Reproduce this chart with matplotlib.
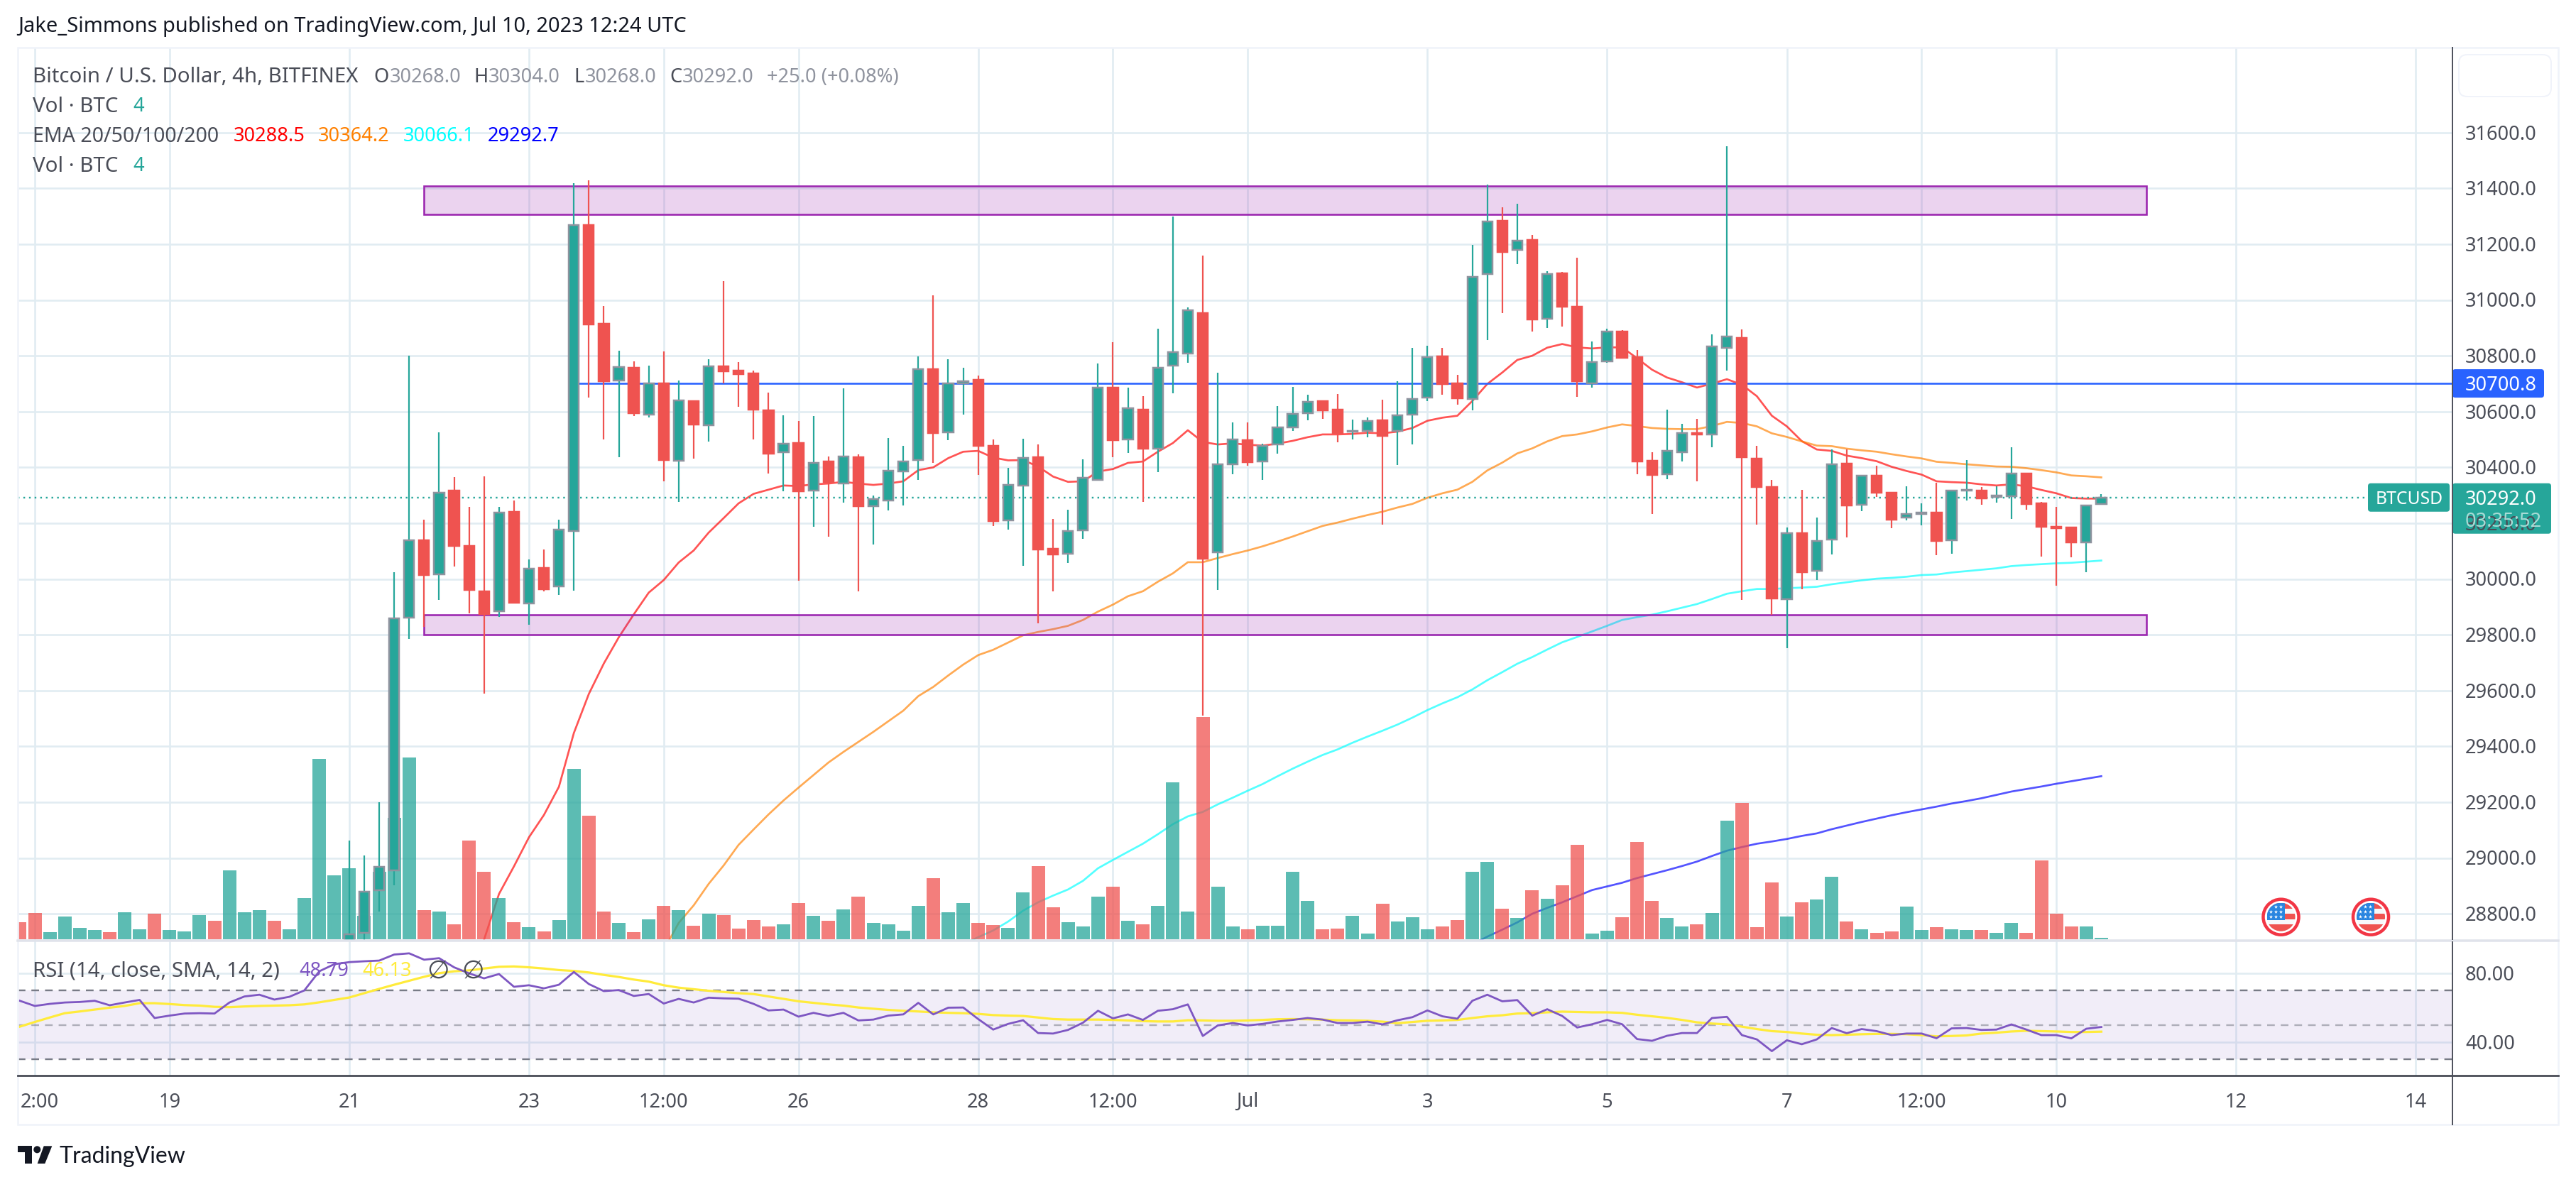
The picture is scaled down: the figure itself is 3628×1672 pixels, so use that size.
import numpy as np
import matplotlib
matplotlib.use('Agg')
import matplotlib.pyplot as plt
from matplotlib.patches import Rectangle, Circle, Polygon, FancyBboxPatch

# volume per bar (arbitrary units), bars -1 .. 138
volume = [56, 87, 24, 75, 38, 31, 24, 89, 33, 84, 31, 26, 80, 61, 227, 89, 96, 61, 33, 136,
          593, 210, 234, 77, 222, 399, 598, 96, 91, 49, 325, 222, 136, 56, 40, 26, 63, 560, 406, 91,
          54, 24, 66, 110, 96, 45, 84, 80, 35, 63, 42, 49, 119, 77, 61, 98, 140, 54, 49, 28,
          110, 201, 89, 119, 54, 47, 38, 154, 241, 105, 56, 42, 140, 173, 61, 49, 110, 516, 91, 731,
          173, 42, 33, 45, 45, 222, 126, 33, 35, 77, 19, 117, 59, 73, 33, 42, 63, 222, 255, 101,
          70, 161, 133, 178, 311, 19, 28, 73, 320, 126, 70, 42, 49, 87, 390, 448, 40, 187, 75, 122,
          131, 206, 59, 33, 21, 26, 108, 31, 40, 33, 31, 31, 21, 54, 21, 259, 84, 42, 42, 5]
# direction of the bars whose candles sit below the visible price range (-1 .. 20)
early_up = [0, 0, 1, 1, 1, 1, 0, 1, 1, 0, 1, 1, 1, 0, 1, 1, 1, 0, 1, 1, 1, 1]

# candles, bars 21 .. 138
opens = [28650, 28731, 28885, 28956, 29862, 30138, 30017, 30317, 30118, 29955,
         29884, 30241, 29912, 30040, 29973, 30172, 31268, 30915, 30711, 30757,
         30589, 30701, 30423, 30638, 30550, 30762, 30747, 30737, 30605, 30454,
         30487, 30316, 30421, 30342, 30437, 30261, 30281, 30385, 30426, 30752,
         30525, 30700, 30713, 30477, 30210, 30334, 30437, 30108, 30090, 30175,
         30355, 30686, 30499, 30607, 30468, 30765, 30807, 30953, 30095, 30411,
         30498, 30420, 30481, 30544, 30594, 30638, 30607, 30529, 30531, 30569,
         30530, 30589, 30651, 30798, 30701, 30644, 31092, 31283, 31179, 31216,
         30933, 31095, 30975, 30702, 30781, 30887, 30794, 30424, 30376, 30455,
         30522, 30518, 30829, 30864, 30432, 30329, 29928, 30164, 30029, 30141,
         30413, 30265, 30371, 30310, 30219, 30234, 30238, 30138, 30316, 30317,
         30295, 30297, 30378, 30271, 30186, 30185, 30132, 30268]
highs = [29062, 29010, 29199, 30024, 30801, 30213, 30526, 30366, 30259, 30368,
         30259, 30282, 30070, 30106, 30213, 31419, 31429, 30979, 30818, 30780,
         30765, 30816, 30712, 30640, 30788, 31068, 30778, 30747, 30668, 30587,
         30567, 30583, 30439, 30683, 30447, 30300, 30506, 30477, 30798, 31017,
         30787, 30757, 30729, 30499, 30398, 30503, 30482, 30215, 30249, 30429,
         30772, 30848, 30686, 30655, 30898, 31299, 30973, 31158, 30739, 30561,
         30561, 30485, 30620, 30689, 30660, 30638, 30663, 30572, 30580, 30643,
         30709, 30829, 30835, 30829, 30731, 31197, 31413, 31331, 31344, 31232,
         31103, 31100, 31152, 30851, 30898, 30892, 30821, 30454, 30607, 30556,
         30574, 30877, 31550, 30895, 30477, 30355, 30185, 30320, 30220, 30465,
         30465, 30369, 30406, 30310, 30332, 30271, 30346, 30320, 30426, 30329,
         30333, 30472, 30378, 30276, 30259, 30185, 30264, 30304]
lows = [28600, 28700, 28809, 28902, 29785, 29827, 29925, 30045, 29876, 29588,
        29865, 29913, 29835, 29955, 29943, 29959, 30650, 30500, 30437, 30584,
        30579, 30351, 30277, 30432, 30493, 30701, 30618, 30500, 30377, 30315,
        29993, 30186, 30151, 30274, 29956, 30123, 30246, 30264, 30356, 30417,
        30498, 30589, 30372, 30189, 30178, 30046, 29841, 29956, 30056, 30145,
        30355, 30437, 30452, 30277, 30384, 30666, 30774, 29510, 29960, 30376,
        30407, 30355, 30450, 30530, 30569, 30574, 30490, 30500, 30508, 30194,
        30408, 30482, 30637, 30660, 30625, 30604, 30855, 30953, 31129, 30887,
        30899, 30904, 30652, 30686, 30775, 30792, 30376, 30232, 30358, 30421,
        30350, 30473, 30747, 29925, 30195, 29872, 29751, 29963, 29997, 30088,
        30149, 30243, 30294, 30182, 30210, 30193, 30086, 30090, 30281, 30265,
        30273, 30215, 30249, 30080, 29975, 30077, 30025, 30268]
closes = [28726, 28878, 28967, 29858, 30138, 30013, 30309, 30119, 29960, 29873,
          30237, 29915, 30036, 29964, 30178, 31268, 30913, 30709, 30759, 30593,
          30700, 30425, 30639, 30554, 30761, 30745, 30735, 30606, 30448, 30486,
          30313, 30417, 30348, 30438, 30260, 30285, 30387, 30420, 30751, 30524,
          30700, 30708, 30478, 30207, 30338, 30435, 30106, 30089, 30173, 30363,
          30685, 30498, 30613, 30467, 30756, 30814, 30964, 30073, 30412, 30499,
          30419, 30476, 30544, 30592, 30634, 30605, 30524, 30531, 30565, 30513,
          30587, 30646, 30796, 30699, 30647, 31082, 31282, 31173, 31212, 30931,
          31094, 30975, 30708, 30778, 30886, 30792, 30421, 30373, 30460, 30524,
          30517, 30833, 30868, 30437, 30330, 29929, 30165, 30024, 30137, 30412,
          30263, 30369, 30310, 30212, 30232, 30237, 30136, 30316, 30320, 30290,
          30298, 30377, 30269, 30186, 30182, 30130, 30264, 30292]

# EMA 20, bars 30 .. 138
ema20 = [28707, 28871, 28970, 29074, 29154, 29255, 29448, 29588, 29697, 29791,
         29873, 29951, 29996, 30059, 30102, 30166, 30218, 30271, 30305, 30320,
         30335, 30333, 30339, 30342, 30348, 30342, 30337, 30342, 30350, 30390,
         30400, 30433, 30456, 30459, 30435, 30425, 30426, 30403, 30367, 30348,
         30350, 30385, 30394, 30416, 30421, 30456, 30487, 30533, 30491, 30482,
         30486, 30481, 30478, 30485, 30495, 30508, 30518, 30518, 30520, 30524,
         30522, 30528, 30541, 30567, 30578, 30585, 30638, 30699, 30740, 30785,
         30800, 30829, 30842, 30830, 30826, 30830, 30830, 30791, 30750, 30722,
         30705, 30686, 30700, 30716, 30696, 30655, 30585, 30547, 30494, 30464,
         30459, 30442, 30433, 30422, 30402, 30387, 30374, 30350, 30347, 30345,
         30339, 30335, 30339, 30332, 30319, 30307, 30290, 30288, 30288]
# EMA 50, bars 42 .. 138
ema50 = [28670, 28767, 28830, 28907, 28973, 29047, 29102, 29156, 29206, 29252,
         29297, 29342, 29380, 29416, 29452, 29490, 29528, 29580, 29613, 29654,
         29693, 29727, 29746, 29772, 29798, 29810, 29820, 29832, 29853, 29883,
         29908, 29938, 29956, 29990, 30020, 30060, 30060, 30075, 30089, 30102,
         30117, 30134, 30152, 30171, 30190, 30202, 30216, 30229, 30241, 30256,
         30269, 30291, 30307, 30320, 30348, 30389, 30417, 30450, 30468, 30493,
         30512, 30518, 30529, 30543, 30554, 30548, 30541, 30538, 30537, 30537,
         30548, 30563, 30559, 30547, 30522, 30509, 30493, 30478, 30476, 30467,
         30461, 30456, 30447, 30439, 30432, 30420, 30416, 30411, 30407, 30403,
         30402, 30397, 30390, 30382, 30371, 30368, 30364]
# EMA 100, bars 62 .. 138
ema100 = [28690, 28716, 28740, 28772, 28811, 28841, 28865, 28887, 28918, 28963,
          28993, 29022, 29051, 29085, 29121, 29149, 29165, 29192, 29216, 29241,
          29265, 29293, 29320, 29345, 29369, 29389, 29413, 29435, 29456, 29478,
          29503, 29530, 29554, 29576, 29604, 29637, 29666, 29696, 29720, 29747,
          29773, 29792, 29812, 29832, 29853, 29863, 29872, 29884, 29897, 29910,
          29928, 29947, 29956, 29964, 29964, 29967, 29969, 29972, 29981, 29988,
          29995, 30001, 30004, 30008, 30014, 30016, 30023, 30028, 30033, 30038,
          30046, 30050, 30053, 30056, 30058, 30062, 30066]
# EMA 200, bars 96 .. 138
ema200 = [28690, 28718, 28743, 28769, 28800, 28821, 28841, 28863, 28885, 28898,
          28911, 28928, 28942, 28956, 28971, 28987, 29007, 29026, 29039, 29051,
          29059, 29068, 29079, 29088, 29103, 29116, 29129, 29141, 29153, 29164,
          29174, 29184, 29195, 29204, 29214, 29226, 29238, 29247, 29256, 29266,
          29275, 29284, 29293]

# RSI and its SMA, bars -1 .. 138
rsi = [64.0, 61.0, 62.2, 63.0, 63.3, 64.0, 61.4, 63.0, 64.5, 54.0, 55.4, 56.6, 56.8, 56.6, 63.0,
       66.5, 67.5, 64.7, 66.3, 70.0, 81.1, 85.2, 86.4, 86.9, 87.3, 90.8, 91.5, 87.8, 88.7, 83.4,
       79.9, 77.0, 79.5, 72.1, 73.0, 71.2, 73.3, 80.7, 73.7, 69.6, 70.2, 66.8, 67.9, 62.4, 65.1,
       63.0, 65.8, 65.4, 65.2, 62.2, 58.4, 58.9, 54.8, 57.0, 55.2, 57.0, 52.6, 53.1, 55.4, 56.1,
       62.8, 56.1, 60.0, 60.1, 53.4, 47.3, 50.6, 52.7, 45.3, 45.0, 47.1, 51.3, 58.2, 53.8, 56.1,
       52.9, 58.2, 59.1, 61.9, 43.6, 49.7, 51.1, 49.7, 50.6, 52.0, 52.9, 54.0, 53.1, 51.1, 51.1,
       51.9, 50.3, 52.7, 54.5, 58.4, 55.0, 53.6, 64.0, 67.5, 63.7, 64.4, 55.4, 59.1, 55.2, 48.5,
       50.4, 52.9, 50.4, 41.8, 40.8, 43.7, 45.3, 45.3, 54.0, 54.7, 44.1, 41.6, 34.8, 41.1, 38.8,
       41.6, 48.2, 45.2, 47.6, 46.4, 44.1, 45.0, 45.0, 42.3, 48.0, 48.2, 47.1, 47.3, 50.3, 47.3,
       44.1, 44.1, 42.2, 47.8, 48.8]
rsi_sma = [49.0, 51.7, 54.3, 56.8, 57.8, 58.9, 60.0, 61.0, 62.6, 62.6, 62.1, 61.5, 61.2, 60.5, 60.3,
           60.7, 61.0, 61.2, 61.4, 61.9, 63.1, 64.5, 65.9, 68.4, 70.9, 73.3, 75.6, 77.9, 80.0, 81.1,
           81.6, 82.7, 83.7, 83.9, 83.4, 82.7, 81.8, 81.3, 80.4, 79.0, 77.8, 76.3, 75.1, 73.0, 71.6,
           70.7, 69.8, 69.1, 68.4, 67.9, 66.5, 65.1, 63.7, 62.8, 61.9, 61.2, 60.1, 59.4, 58.7, 58.2,
           57.8, 57.3, 57.0, 56.8, 56.4, 55.7, 55.4, 55.2, 54.3, 53.4, 53.1, 53.1, 53.1, 52.9, 52.6,
           52.2, 52.0, 52.0, 52.7, 52.6, 52.4, 52.4, 52.6, 52.9, 53.3, 53.4, 53.3, 53.1, 52.7, 52.6,
           52.4, 51.9, 51.0, 51.7, 52.4, 52.6, 52.9, 54.0, 55.0, 55.6, 56.6, 56.8, 57.3, 57.7, 57.5,
           57.3, 57.3, 57.0, 55.9, 55.0, 54.1, 52.9, 51.5, 50.8, 50.3, 49.0, 47.6, 46.4, 45.9, 45.0,
           44.3, 44.1, 44.3, 44.6, 44.8, 44.8, 44.6, 44.1, 43.4, 43.6, 43.9, 45.0, 45.5, 46.2, 46.6,
           46.4, 46.2, 45.9, 45.9, 46.1]

# time axis and price axis
time_ticks = [0, 9, 21, 33, 42, 51, 63, 72, 81, 93, 105, 117, 126, 135, 147, 159]
time_labels = ['12:00', '19', '21', '23', '12:00', '26', '28', '12:00', 'Jul', '3', '5', '7', '12:00', '10', '12', '14']
price_ticks = [28800, 29000, 29200, 29400, 29600, 29800, 30000, 30200, 30400, 30600, 30800, 31000, 31200, 31400, 31600]
rsi_ticks = [40, 80]

# drawings: rectangles (first bar, last bar, bottom, top) and the horizontal ray
zones = [(26, 141, 31306, 31408), (26, 141, 29801, 29872)]
ray_price = 30700.8
ray_start = 36
last_price = 30292
last_line_end = 155.8
event_bars = [150, 156]

W, H = 3628, 1672
LEFT, RIGHT, TOP, SPLIT, BOTTOM, OUTER_R, OUTER_B = 25, 3454, 67, 1325, 1515, 3603, 1584
BAR_PX = 21.09
X0 = 49
GREEN, RED = '#26a69a', '#ef5350'
GRID = '#e1ecf2'
FONT = 'Noto Sans'
TXT = '#4a4d57'
FS = 19.6
DY = 3


def px(n):
    return n * 0.72


def make_ax(top, bottom, ylim, z):
    ax = fig.add_axes([LEFT / W, 1 - bottom / H, (RIGHT - LEFT) / W, (bottom - top) / H], zorder=z)
    ax.set_xlim((LEFT - X0) / BAR_PX, (RIGHT - X0) / BAR_PX)
    ax.set_ylim(*ylim)
    ax.patch.set_visible(False)
    ax.set_xticks([])
    ax.set_yticks([])
    for s in ax.spines.values():
        s.set_visible(False)
    return ax


fig = plt.figure(figsize=(W / 100, H / 100), dpi=100, facecolor='white')
price_lim = (31600 - (SPLIT - 186.7) / 0.393, 31600 + (186.7 - TOP) / 0.393)
rsi_lim = (40 - (BOTTOM - 1468) / 2.43, 80 + (1370.8 - SPLIT) / 2.43)

ax_price = make_ax(TOP, SPLIT, price_lim, 1)
ax_vol = make_ax(TOP, SPLIT, (-4.2, 2931), 2)
ax_candle = make_ax(TOP, SPLIT, price_lim, 3)
ax_rsi = make_ax(SPLIT, BOTTOM, rsi_lim, 1)

# grid
ax_price.hlines(price_ticks, *ax_price.get_xlim(), color=GRID, lw=px(2.6), zorder=0)
for ax in (ax_price, ax_rsi):
    ax.vlines(time_ticks, *ax.get_ylim(), color=GRID, lw=px(2.6), zorder=0)
ax_rsi.hlines(rsi_ticks, *ax_rsi.get_xlim(), color=GRID, lw=px(2.6), zorder=0)

# EMAs sit under the zones and the volume
ema_lines = [(ema20, 30, '#ff0000'), (ema50, 42, '#ff8000'), (ema100, 62, '#00ffff'), (ema200, 96, '#0000ff')]
for vals, start, col in ema_lines:
    ax_price.plot(np.arange(start, start + len(vals)), vals, color=col, alpha=0.67, lw=px(2.7), zorder=2,
                  solid_joinstyle='round')

ax_price.hlines(last_price, ax_price.get_xlim()[0], last_line_end, color=GREEN, lw=px(2.4),
                linestyles=(0, (1, 2.3)), zorder=3)

for x0, x1, y0, y1 in zones:
    ax_price.add_patch(Rectangle((x0, y0), x1 - x0, y1 - y0, facecolor='#9c27b0', alpha=0.2, lw=0, zorder=3))
    ax_price.add_patch(Rectangle((x0, y0), x1 - x0, y1 - y0, fill=False, edgecolor='#9c27b0', lw=px(2.6), zorder=3))

# volume
bars = np.arange(-1, 139)
opens = np.array(opens)
closes = np.array(closes)
highs = np.array(highs)
lows = np.array(lows)
is_up = np.concatenate([np.array(early_up, dtype=bool), closes >= opens])
ax_vol.bar(bars, volume, width=19 / BAR_PX, color=np.where(is_up, GREEN, RED), alpha=0.75, lw=0)

# candles
ax_candle.hlines(ray_price, ray_start, ax_candle.get_xlim()[1], color='#2962ff', lw=px(2.6), zorder=1)
candle_bars = np.arange(21, 139)
up = closes >= opens
ax_candle.vlines(candle_bars, lows, highs, color=np.where(up, GREEN, RED), lw=px(2.2), zorder=2)
ax_candle.bar(candle_bars[~up], (closes - opens)[~up], bottom=opens[~up], width=14.2 / BAR_PX,
              color=RED, edgecolor=RED, lw=px(2.5), zorder=3)
ax_candle.bar(candle_bars[up], (closes - opens)[up], bottom=opens[up], width=14.2 / BAR_PX,
              color=GREEN, edgecolor='#8f939e', lw=px(2.5), zorder=3)

# RSI pane
ax_rsi.axhspan(30, 70, color='#7e57c2', alpha=0.1, lw=0, zorder=1)
ax_rsi.hlines([70, 30], *ax_rsi.get_xlim(), color='#787b86', lw=px(2.4), linestyles=(0, (4.5, 3.5)), zorder=2)
ax_rsi.hlines(50, *ax_rsi.get_xlim(), color='#787b86', alpha=0.55, lw=px(2.4), linestyles=(0, (4.5, 3.5)), zorder=2)
ax_rsi.plot(bars, rsi_sma, color='#ffeb3b', lw=px(3.2), zorder=3)
ax_rsi.plot(bars, rsi, color='#7e57c2', lw=px(2.8), zorder=4)

# everything else is placed in image pixels
over = fig.add_axes([0, 0, 1, 1], zorder=10)
over.set_xlim(0, W)
over.set_ylim(H, 0)
over.axis('off')
over.patch.set_visible(False)


def label(x, y, s, color=TXT, size=FS, ha='left', va='center', family=FONT, **kw):
    return over.text(x, y + DY, s, color=color, fontsize=size, ha=ha, va=va, family=family, **kw)


# frame and axis lines
over.add_patch(Rectangle((LEFT, TOP), OUTER_R - LEFT, OUTER_B - TOP, fill=False, edgecolor='#f0f3fa', lw=px(2.6)))
over.plot([LEFT, OUTER_R], [SPLIT, SPLIT], color='#e0e3eb', lw=px(3.5))
over.plot([RIGHT, RIGHT], [TOP, 1323], color='#50535e', lw=px(2))
over.plot([RIGHT, RIGHT], [1327, OUTER_B], color='#50535e', lw=px(2))
over.plot([LEFT, OUTER_R], [BOTTOM, BOTTOM], color='#4a4d57', lw=px(2.8))
over.add_patch(FancyBboxPatch((3469, 83), 118, 47, boxstyle='round,pad=6,rounding_size=12',
                              facecolor='white', edgecolor='#f0f3fa', lw=px(2)))

# header
label(25, 35, 'Jake_Simmons published on TradingView.com, Jul 10, 2023 12:24 UTC', color='#131722', size=20.9)
label(46, 105.5, 'Bitcoin / U.S. Dollar, 4h, BITFINEX', size=21.2)
ohlc_gray = '#8f939e'
for x, s, c in [(526, 'O', TXT), (549, '30268.0', ohlc_gray), (667, 'H', TXT), (688, '30304.0', ohlc_gray),
                (808, 'L', TXT), (824, '30268.0', ohlc_gray), (943, 'C', TXT), (961, '30292.0', ohlc_gray),
                (1080, '+25.0 (+0.08%)', ohlc_gray)]:
    label(x, 105.5, s, color=c)
label(46, 147, 'Vol · BTC', size=21.2)
label(187, 147, '4', color=GREEN)
label(46, 189, 'EMA 20/50/100/200', size=20.5)
for x, s, c in [(329, '30288.5', '#ff0000'), (448, '30364.2', '#ff8000'), (568, '30066.1', '#00ffff'), (687, '29292.7', '#0000ff')]:
    label(x, 189, s, color=c)
label(46, 231, 'Vol · BTC', size=21.2)
label(187, 231, '4', color=GREEN)
label(46, 1365, 'RSI (14, close, SMA, 14, 2)', size=21.2)
label(421, 1365, '48.79', color='#7e57c2')
label(510, 1365, '46.13', color='#ffeb3b')
label(601, 1365, '∅', family='DejaVu Sans', size=26)
label(650, 1365, '∅', family='DejaVu Sans', size=26)

# axis labels, positioned through the pane scales
price_to_px = lambda p: TOP + (price_lim[1] - p) / (price_lim[1] - price_lim[0]) * (SPLIT - TOP)
rsi_to_px = lambda v: SPLIT + (rsi_lim[1] - v) / (rsi_lim[1] - rsi_lim[0]) * (BOTTOM - SPLIT)
for p in price_ticks:
    label(3472, price_to_px(p), f'{p:.1f}')
for v in rsi_ticks:
    label(3472, rsi_to_px(v), f'{v:.2f}')
for t, s in zip(time_ticks, time_labels):
    x = X0 + t * BAR_PX
    if t == 0:
        label(29, 1549.5, '2:00')
    else:
        label(x, 1549.5, s, ha='center')

# price labels on the axis
ray_y = price_to_px(ray_price)
over.add_patch(FancyBboxPatch((3454, ray_y - 20), 129, 40, boxstyle='round,pad=0,rounding_size=4', facecolor='#2962ff', lw=0))
label(3472, ray_y, '30700.8', color='white')
last_y = price_to_px(last_price)
over.add_patch(FancyBboxPatch((3335, last_y - 20), 115, 40, boxstyle='round,pad=0,rounding_size=4', facecolor=GREEN, lw=0))
label(3346, last_y, 'BTCUSD', color='white', size=17.8)
over.add_patch(FancyBboxPatch((3454, last_y - 20), 139, 71, boxstyle='round,pad=0,rounding_size=4', facecolor=GREEN, lw=0))
label(3472, last_y, '30292.0', color='white')
label(3472, last_y + 31, '03:35:52', color='#a8dbd5')

# event flags
for b in event_bars:
    cx, cy = X0 + b * BAR_PX, 1291.7
    over.add_patch(Circle((cx, cy), 25, facecolor='white', edgecolor='#f23645', lw=px(4.5)))
    clip = Circle((cx, cy), 20, transform=over.transData)
    over.add_patch(Circle((cx, cy), 20, facecolor='#f7f8fa', lw=0))
    for y0, y1 in [(-20, -11.7), (-5, 3.3), (10, 20)]:
        r = Rectangle((cx - 20, cy + y0), 40, y1 - y0, facecolor=RED, lw=0)
        over.add_patch(r)
        r.set_clip_path(clip)
    r = Rectangle((cx - 20, cy - 20), 25, 24.3, facecolor='#2a86e0', lw=0)
    over.add_patch(r)
    r.set_clip_path(clip)
    sx = [cx - 8, cx - 1, cx - 15, cx - 8, cx - 1, cx - 15, cx - 8, cx - 1]
    sy = [cy - 15, cy - 15, cy - 8, cy - 8, cy - 8, cy - 1, cy - 1, cy - 1]
    over.scatter(sx, sy, s=16, marker='*', color='white', lw=0, zorder=5)

# logo
LOGO = '#131722'
over.add_patch(Polygon([(25.3, 1614.3), (45, 1614.3), (45, 1639), (35, 1639), (35, 1623), (25.3, 1623)], facecolor=LOGO, lw=0))
over.add_patch(Circle((52.3, 1619.3), 5, facecolor=LOGO, lw=0))
over.add_patch(Polygon([(61.7, 1614.3), (73.3, 1614.3), (63.3, 1639), (52.7, 1639)], facecolor=LOGO, lw=0))
label(83, 1626, 'TradingView', color=LOGO, size=23, family='Lato')

fig.savefig('out.png', dpi=100, facecolor='white')
